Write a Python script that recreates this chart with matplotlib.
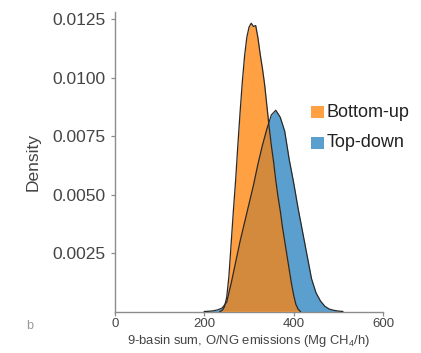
import numpy as np
import matplotlib
matplotlib.use("Agg")
import matplotlib.pyplot as plt

plt.rcParams["font.family"] = ["Liberation Sans", "DejaVu Sans"]
plt.rcParams["mathtext.fontset"] = "custom"
plt.rcParams["mathtext.rm"] = "Liberation Sans"
plt.rcParams["mathtext.it"] = "Liberation Sans:italic"

# Bottom-up emission estimate density (Mg CH4/h)
bu_x = [235, 240, 245, 250, 255, 260, 265, 270, 275, 280, 285, 290, 295, 300,
        305, 310, 315, 320, 325, 330, 335, 340, 345, 350, 355, 360, 365, 370,
        375, 380, 385, 390, 395, 400, 405, 410, 415]
bu_d = [0.0, 0.00005, 0.0002, 0.0006, 0.0015, 0.0029, 0.0043, 0.0056, 0.0071,
        0.0085, 0.0098, 0.0109, 0.0117, 0.01215, 0.01232, 0.01218, 0.01222,
        0.0117, 0.0110, 0.0104, 0.0097, 0.0088, 0.0079, 0.0071, 0.0064,
        0.0056, 0.0049, 0.0043, 0.0036, 0.0030, 0.0024, 0.0018, 0.0012,
        0.0007, 0.0003, 0.0001, 0.0]

# Top-down emission estimate density (Mg CH4/h)
td_x = [200, 210, 220, 230, 240, 250, 260, 270, 280, 290, 300, 310, 320, 330,
        340, 350, 360, 370, 380, 390, 400, 410, 420, 430, 440, 450, 460, 470,
        480, 490, 500, 510]
td_d = [0.0, 0.00001, 0.00003, 0.00007, 0.00015, 0.0004, 0.0012, 0.0021,
        0.0030, 0.0038, 0.0046, 0.0054, 0.0063, 0.0071, 0.0078, 0.0084,
        0.0086, 0.0083, 0.0077, 0.0065, 0.0055, 0.0044, 0.0034, 0.0024,
        0.0014, 0.0008, 0.00045, 0.00022, 0.0001, 0.00005, 0.00002, 0.0]

series_names = ["Bottom-up", "Top-down"]
x_ticks = [0, 200, 400, 600]
y_ticks = [0.0025, 0.0050, 0.0075, 0.0100, 0.0125]

c_orange = "#FFA043"
c_blue = "#5A9FCD"
c_overlap = "#D48A3C"
c_edge = "#2a2a2a"
c_axis = "#8c8c8c"
c_text = "#444444"

fig = plt.figure(figsize=(4.21, 3.53), dpi=100)
ax = fig.add_axes([115 / 421, 41.5 / 353, 268 / 421, 299.5 / 353])

blue_fill = ax.fill_between(td_x, td_d, color=c_blue, lw=0, zorder=1)
ax.fill_between(bu_x, bu_d, color=c_orange, lw=0, zorder=2)
overlap = ax.fill_between(bu_x, bu_d, color=c_overlap, lw=0, zorder=3)
overlap.set_clip_path(blue_fill.get_paths()[0], ax.transData)

ax.plot(td_x, td_d, color=c_edge, lw=0.9, zorder=4)
ax.plot(bu_x, bu_d, color=c_edge, lw=0.9, zorder=4)

ax.set_xlim(0, 600)
ax.set_ylim(0, 0.0128)
ax.set_xticks(x_ticks)
ax.set_xticklabels([str(v) for v in x_ticks])
ax.set_yticks(y_ticks)
ax.set_yticklabels([f"{v:.4f}" for v in y_ticks])

for side in ("top", "right"):
    ax.spines[side].set_visible(False)
for side in ("left", "bottom"):
    ax.spines[side].set_color(c_axis)
    ax.spines[side].set_linewidth(1.0)
ax.tick_params(axis="both", colors=c_axis, labelcolor=c_text, labelsize=12.5,
               length=3, width=0.9, direction="out")
ax.tick_params(axis="x", labelsize=9.5, pad=2)

ax.set_ylabel("Density", fontsize=12.5, color=c_text, labelpad=9)
ax.set_xlabel("9-basin sum, O/NG emissions (Mg CH$_4$/h)", fontsize=9.4,
              color=c_text, labelpad=2)

# legend drawn as squares with text
leg_items = [(series_names[0], c_orange), (series_names[1], c_blue)]
for i, (name, col) in enumerate(leg_items):
    yy = 0.666 - i * 0.103
    ax.add_patch(plt.Rectangle((0.733, yy - 0.021), 0.045, 0.040,
                               transform=ax.transAxes, color=col, lw=0,
                               clip_on=False))
    ax.text(0.79, yy, name, transform=ax.transAxes, fontsize=13,
            color="#222222", va="center", ha="left")

fig.text(30 / 421, 1 - 326 / 353, "b", fontsize=9, color="#999999",
         ha="center", va="center")

fig.savefig("out.png", dpi=100)
